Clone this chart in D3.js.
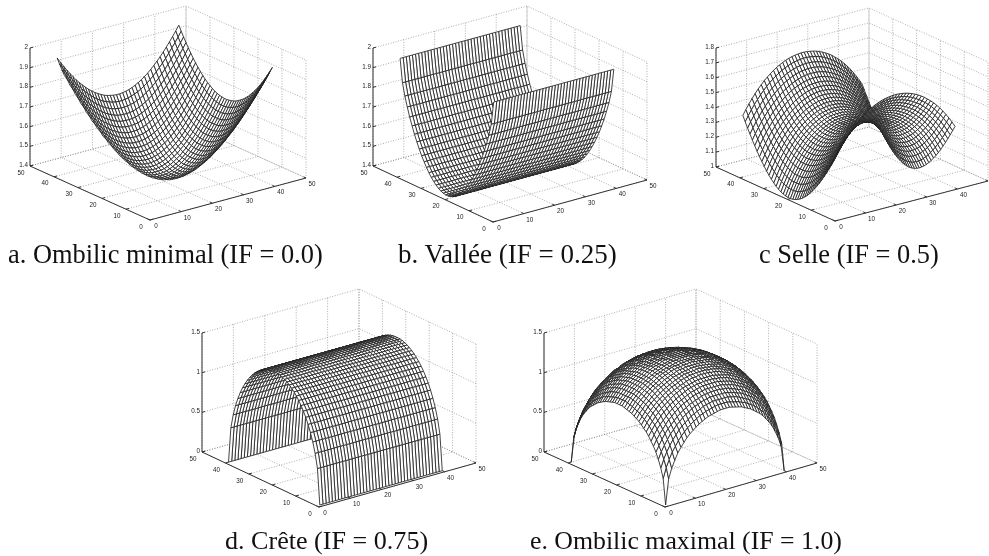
<!DOCTYPE html>
<html>
<head>
<meta charset="utf-8">
<title>Indice de forme</title>
<script src="https://d3js.org/d3.v7.min.js"></script>
<style>
  body { margin: 0; background: #fff; }
  svg { display: block; filter: blur(0.45px); }
</style>
</head>
<body>
<div id="chart"></div>
<script>
// Height tables read off the surfaces. Rows and columns count from the middle
// of the 40 x 40 mesh out to its border, the other three quarters are mirrors.

// a. rows get longer by one, the table is the same across its diagonal
var bowlHeights = [
  [1.415],
  [1.417,1.418],
  [1.420,1.422,1.425],
  [1.426,1.427,1.431,1.437],
  [1.433,1.435,1.438,1.444,1.451],
  [1.442,1.444,1.448,1.453,1.460,1.470],
  [1.453,1.455,1.458,1.464,1.471,1.480,1.491],
  [1.466,1.468,1.471,1.476,1.483,1.493,1.503,1.515],
  [1.480,1.482,1.485,1.491,1.498,1.507,1.517,1.529,1.543],
  [1.496,1.498,1.501,1.506,1.513,1.522,1.532,1.544,1.558,1.573],
  [1.514,1.515,1.519,1.524,1.531,1.539,1.549,1.562,1.575,1.590,1.606],
  [1.533,1.534,1.538,1.543,1.550,1.558,1.568,1.580,1.593,1.608,1.624,1.642],
  [1.553,1.555,1.558,1.563,1.570,1.578,1.588,1.600,1.613,1.627,1.644,1.661,1.680],
  [1.575,1.576,1.580,1.585,1.591,1.600,1.609,1.621,1.634,1.648,1.664,1.681,1.700,1.720],
  [1.598,1.600,1.603,1.608,1.614,1.623,1.632,1.644,1.656,1.670,1.686,1.703,1.721,1.741,1.762],
  [1.623,1.624,1.627,1.632,1.639,1.647,1.656,1.667,1.680,1.694,1.709,1.726,1.744,1.764,1.785,1.807],
  [1.648,1.649,1.652,1.657,1.664,1.672,1.681,1.692,1.705,1.719,1.734,1.750,1.768,1.788,1.808,1.830,1.853],
  [1.675,1.677,1.680,1.684,1.691,1.698,1.708,1.719,1.731,1.744,1.759,1.776,1.793,1.812,1.833,1.854,1.877,1.900],
  [1.703,1.705,1.708,1.713,1.719,1.726,1.735,1.746,1.758,1.771,1.786,1.802,1.820,1.838,1.858,1.880,1.902,1.925,1.949],
  [1.732,1.734,1.737,1.741,1.747,1.755,1.764,1.774,1.786,1.799,1.814,1.830,1.847,1.865,1.885,1.906,1.928,1.951,1.975,2.000]
];

// b. height across the valley
var valleyProfile = [1.414,1.417,1.422,1.430,1.441,1.454,1.469,1.487,1.508,1.531,1.556,1.584,1.615,1.648,1.685,1.725,1.770,1.820,1.882,2.000];

// c. rows follow y, columns follow x
var saddleHeights = [
  [1.414,1.412,1.409,1.403,1.396,1.386,1.375,1.361,1.346,1.328,1.308,1.286,1.261,1.233,1.203,1.170,1.133,1.094,1.049,1.000],
  [1.416,1.414,1.411,1.405,1.397,1.388,1.377,1.363,1.347,1.330,1.310,1.288,1.263,1.236,1.205,1.172,1.136,1.096,1.052,1.003],
  [1.419,1.418,1.414,1.408,1.401,1.391,1.380,1.367,1.351,1.334,1.314,1.291,1.267,1.240,1.209,1.176,1.140,1.100,1.056,1.008],
  [1.425,1.423,1.420,1.414,1.407,1.397,1.386,1.372,1.357,1.340,1.320,1.298,1.273,1.246,1.216,1.183,1.147,1.108,1.064,1.016],
  [1.432,1.431,1.427,1.422,1.414,1.405,1.393,1.380,1.365,1.347,1.328,1.306,1.281,1.254,1.225,1.192,1.156,1.117,1.074,1.026],
  [1.442,1.440,1.437,1.431,1.424,1.414,1.403,1.390,1.375,1.357,1.338,1.316,1.292,1.265,1.236,1.203,1.168,1.129,1.086,1.039],
  [1.453,1.451,1.447,1.442,1.435,1.425,1.414,1.401,1.386,1.369,1.349,1.328,1.304,1.277,1.248,1.216,1.181,1.143,1.100,1.054],
  [1.465,1.464,1.460,1.455,1.447,1.438,1.427,1.414,1.399,1.382,1.363,1.342,1.318,1.292,1.263,1.231,1.197,1.159,1.117,1.071],
  [1.479,1.478,1.474,1.469,1.462,1.453,1.442,1.429,1.414,1.397,1.378,1.357,1.334,1.308,1.279,1.248,1.214,1.177,1.136,1.091],
  [1.495,1.494,1.490,1.485,1.478,1.468,1.458,1.445,1.431,1.414,1.395,1.374,1.351,1.326,1.298,1.267,1.233,1.197,1.156,1.112],
  [1.513,1.511,1.508,1.503,1.496,1.487,1.476,1.463,1.449,1.433,1.414,1.393,1.371,1.346,1.318,1.288,1.254,1.218,1.179,1.136],
  [1.532,1.530,1.527,1.522,1.515,1.506,1.496,1.483,1.469,1.453,1.434,1.414,1.392,1.367,1.340,1.310,1.277,1.242,1.203,1.161],
  [1.552,1.551,1.548,1.543,1.536,1.527,1.517,1.504,1.490,1.474,1.456,1.436,1.414,1.390,1.363,1.334,1.302,1.267,1.229,1.187],
  [1.574,1.572,1.569,1.564,1.558,1.549,1.539,1.527,1.513,1.497,1.479,1.460,1.438,1.414,1.388,1.359,1.328,1.294,1.256,1.216],
  [1.598,1.596,1.593,1.588,1.581,1.573,1.563,1.551,1.538,1.522,1.504,1.485,1.464,1.440,1.414,1.386,1.356,1.322,1.286,1.246],
  [1.622,1.621,1.618,1.613,1.606,1.598,1.588,1.576,1.563,1.548,1.530,1.511,1.490,1.467,1.442,1.414,1.384,1.351,1.316,1.277],
  [1.648,1.646,1.643,1.638,1.632,1.624,1.614,1.603,1.590,1.575,1.558,1.539,1.519,1.496,1.471,1.444,1.414,1.382,1.347,1.310],
  [1.675,1.673,1.670,1.665,1.659,1.651,1.642,1.630,1.617,1.603,1.586,1.568,1.548,1.525,1.501,1.473,1.445,1.414,1.380,1.343],
  [1.703,1.701,1.698,1.694,1.688,1.680,1.670,1.659,1.646,1.632,1.616,1.598,1.578,1.556,1.532,1.506,1.478,1.447,1.414,1.378],
  [1.732,1.730,1.727,1.723,1.717,1.709,1.700,1.689,1.677,1.663,1.646,1.629,1.610,1.588,1.565,1.539,1.511,1.481,1.449,1.414]
];

// d. height across the ridge
var ridgeProfile = [1.413,1.410,1.403,1.391,1.376,1.356,1.333,1.305,1.273,1.235,1.192,1.142,1.085,1.021,0.946,0.858,0.754,0.624,0.447,0];

// e. same layout as the bowl
var domeHeights = [
  [1.41],
  [1.41,1.41],
  [1.41,1.41,1.40],
  [1.40,1.40,1.40,1.39],
  [1.40,1.39,1.39,1.38,1.38],
  [1.39,1.38,1.38,1.37,1.37,1.36],
  [1.37,1.37,1.37,1.36,1.36,1.35,1.33],
  [1.36,1.36,1.35,1.35,1.34,1.33,1.32,1.31],
  [1.35,1.34,1.34,1.33,1.33,1.32,1.30,1.29,1.27],
  [1.33,1.33,1.32,1.32,1.31,1.30,1.29,1.27,1.25,1.24],
  [1.31,1.31,1.30,1.30,1.29,1.28,1.26,1.25,1.23,1.21,1.19],
  [1.28,1.28,1.28,1.27,1.26,1.25,1.24,1.23,1.21,1.19,1.17,1.14],
  [1.26,1.26,1.25,1.25,1.24,1.23,1.22,1.20,1.18,1.16,1.14,1.11,1.09],
  [1.23,1.23,1.23,1.22,1.21,1.20,1.19,1.17,1.15,1.13,1.11,1.08,1.05,1.02],
  [1.20,1.20,1.20,1.19,1.18,1.17,1.16,1.14,1.12,1.10,1.08,1.05,1.02,0.98,0.95],
  [1.17,1.17,1.16,1.16,1.15,1.13,1.12,1.10,1.09,1.06,1.04,1.01,0.98,0.94,0.90,0.86],
  [1.13,1.13,1.13,1.12,1.11,1.10,1.08,1.07,1.05,1.02,1.00,0.97,0.93,0.90,0.85,0.81,0.75],
  [1.09,1.09,1.09,1.08,1.07,1.06,1.04,1.02,1.00,0.98,0.95,0.92,0.89,0.85,0.80,0.75,0.69,0.62],
  [1.05,1.05,1.04,1.03,1.02,1.01,0.99,0.98,0.95,0.93,0.90,0.87,0.83,0.79,0.74,0.68,0.62,0.54,0.45],
  [1.00,1.00,0.99,0.98,0.97,0.96,0.94,0.92,0.90,0.87,0.84,0.81,0.77,0.72,0.67,0.61,0.53,0.44,0.32,0]
];

var floorTicks = [0, 10, 20, 30, 40, 50];
var floorLabelsCut = [0, 10, 20, 30, 40];
var zTicksValley = [1.4, 1.5, 1.6, 1.7, 1.8, 1.9, 2];
var zTicksSaddle = [1, 1.1, 1.2, 1.3, 1.4, 1.5, 1.6, 1.7, 1.8];
var zTicksDome = [0, 0.5, 1, 1.5];

var captions = [
  "a. Ombilic minimal (IF = 0.0)",
  "b. Vallée (IF = 0.25)",
  "c Selle (IF = 0.5)",
  "d. Crête (IF = 0.75)",
  "e. Ombilic maximal (IF = 1.0)"
];

var svgWidth = 989;
var svgHeight = 556;
var meshSize = 40;

// distance from the middle of the mesh, in rows of a height table
function fromMiddle(k) {
  return k < meshSize / 2 ? meshSize / 2 - 1 - k : k - meshSize / 2;
}

function lookupTriangle(table) {
  return function(i, j) {
    var a = fromMiddle(i), b = fromMiddle(j);
    return a > b ? table[a][b] : table[b][a];
  };
}

// Each plot: floor corners in pixels, height of the box, its z range
var panels = [
  {
    origin: [150, 220], left: [30, 166], right: [306, 178], boxHeight: 118,
    zDomain: [1.4, 2], zTicks: zTicksValley, xLabels: floorTicks,
    height: lookupTriangle(bowlHeights),
    show: function(i, j) { return i + j >= meshSize - 4; },
    caption: captions[0], captionX: 8, captionY: 263, captionSize: 26.4
  },
  {
    origin: [493, 222], left: [373, 166], right: [647, 180], boxHeight: 118,
    zDomain: [1.4, 2], zTicks: zTicksValley, xLabels: floorTicks,
    height: function(i, j) { return valleyProfile[fromMiddle(j)]; },
    show: function() { return true; },
    caption: captions[1], captionX: 398, captionY: 263, captionSize: 27
  },
  {
    origin: [835, 221], left: [716, 167], right: [988, 181], boxHeight: 119,
    zDomain: [1, 1.8], zTicks: zTicksSaddle, xLabels: floorLabelsCut,
    height: function(i, j) { return saddleHeights[fromMiddle(j)][fromMiddle(i)]; },
    show: function() { return true; },
    caption: captions[2], captionX: 759, captionY: 263, captionSize: 26.4
  },
  {
    origin: [319, 507], left: [202, 452], right: [476, 463], boxHeight: 119,
    zDomain: [0, 1.5], zTicks: zTicksDome, xLabels: floorTicks,
    height: function(i, j) { return ridgeProfile[fromMiddle(j)]; },
    show: function() { return true; },
    caption: captions[3], captionX: 225, captionY: 549, captionSize: 26.1
  },
  {
    origin: [665, 507], left: [544, 452], right: [817, 463], boxHeight: 119,
    zDomain: [0, 1.5], zTicks: zTicksDome, xLabels: floorTicks,
    height: lookupTriangle(domeHeights),
    show: function() { return true; },
    caption: captions[4], captionX: 530, captionY: 549, captionSize: 25.8
  }
];

var svg = d3.select("#chart")
  .append("svg")
  .attr("width", svgWidth)
  .attr("height", svgHeight);

var pathLine = d3.line();

panels.forEach(function(p) {
  var g = svg.append("g");

  // one scale per axis, all of them giving pixel shifts
  var xToX = d3.scaleLinear().domain([0, 50]).range([0, p.right[0] - p.origin[0]]);
  var xToY = d3.scaleLinear().domain([0, 50]).range([0, p.right[1] - p.origin[1]]);
  var yToX = d3.scaleLinear().domain([0, 50]).range([0, p.left[0] - p.origin[0]]);
  var yToY = d3.scaleLinear().domain([0, 50]).range([0, p.left[1] - p.origin[1]]);
  var zToY = d3.scaleLinear().domain(p.zDomain).range([0, -p.boxHeight]);

  function project(x, y, z) {
    return [
      p.origin[0] + xToX(x) + yToX(y),
      p.origin[1] + xToY(x) + yToY(y) + zToY(z)
    ];
  }

  // larger is further from the viewer, 0.4 is the tangent of the elevation
  function depth(x, y, z) {
    return -(xToY(x) + yToY(y)) / 0.4 + zToY(z) * 0.4;
  }

  var zLow = p.zDomain[0], zHigh = p.zDomain[1];

  // Dotted grid on floor and back walls
  var gridLines = [];
  floorTicks.forEach(function(t) {
    gridLines.push([project(t, 0, zLow), project(t, 50, zLow), project(t, 50, zHigh)]);
    gridLines.push([project(0, t, zLow), project(50, t, zLow), project(50, t, zHigh)]);
  });
  p.zTicks.forEach(function(t) {
    gridLines.push([project(0, 50, t), project(50, 50, t), project(50, 0, t)]);
  });

  g.append("g").selectAll("path")
    .data(gridLines)
    .enter()
    .append("path")
    .attr("d", pathLine)
    .attr("fill", "none")
    .attr("stroke", "#777")
    .attr("stroke-width", 0.6)
    .attr("stroke-dasharray", "1 1.6");

  // Axis lines
  var axisLines = [
    [project(50, 0, zLow), project(0, 0, zLow), project(0, 50, zLow), project(0, 50, zHigh)]
  ];
  floorTicks.forEach(function(t) {
    axisLines.push([project(t, 0, zLow), project(t, 1, zLow)]);
    axisLines.push([project(0, t, zLow), project(1, t, zLow)]);
  });
  p.zTicks.forEach(function(t) {
    axisLines.push([project(0, 50, t), project(1, 50, t)]);
  });

  g.append("g").selectAll("path")
    .data(axisLines)
    .enter()
    .append("path")
    .attr("d", pathLine)
    .attr("fill", "none")
    .attr("stroke", "#333")
    .attr("stroke-width", 1);

  // Tick labels
  var tickFont = { family: "Liberation Sans", size: 6.3 };

  g.append("g").selectAll("text")
    .data(p.xLabels)
    .enter()
    .append("text")
    .attr("x", d => project(d, 0, zLow)[0] + 6)
    .attr("y", d => project(d, 0, zLow)[1] + 8)
    .attr("text-anchor", "middle")
    .attr("font-family", tickFont.family)
    .attr("font-size", tickFont.size)
    .attr("fill", "#222")
    .text(d => d);

  g.append("g").selectAll("text")
    .data(floorTicks)
    .enter()
    .append("text")
    .attr("x", d => project(0, d, zLow)[0] - 9)
    .attr("y", d => project(0, d, zLow)[1] + 8.5)
    .attr("text-anchor", "middle")
    .attr("font-family", tickFont.family)
    .attr("font-size", tickFont.size)
    .attr("fill", "#222")
    .text(d => d);

  g.append("g").selectAll("text")
    .data(p.zTicks)
    .enter()
    .append("text")
    .attr("x", d => project(0, 50, d)[0] - 2)
    .attr("y", d => project(0, 50, d)[1] + 1)
    .attr("text-anchor", "end")
    .attr("font-family", tickFont.family)
    .attr("font-size", tickFont.size)
    .attr("fill", "#222")
    .text(d => d);

  // Mesh cells, mesh runs over x and y from 1 to 40, drawn far to near
  var cells = [];
  for (var i = 0; i < meshSize - 1; i++) {
    for (var j = 0; j < meshSize - 1; j++) {
      if (!p.show(i, j)) continue;
      var corners = [[i, j], [i + 1, j], [i + 1, j + 1], [i, j + 1]];
      var xyz = corners.map(c => [c[0] + 1, c[1] + 1, p.height(c[0], c[1])]);
      cells.push({
        points: xyz.map(c => project(c[0], c[1], c[2])),
        far: d3.mean(xyz, c => depth(c[0], c[1], c[2]))
      });
    }
  }
  cells.sort((a, b) => b.far - a.far);

  g.append("g").selectAll("path")
    .data(cells)
    .enter()
    .append("path")
    .attr("d", d => pathLine(d.points) + "Z")
    .attr("fill", "#fff")
    .attr("stroke", "#222")
    .attr("stroke-width", 0.85)
    .attr("stroke-linejoin", "round");

  // Caption under the plot
  g.append("text")
    .attr("x", p.captionX)
    .attr("y", p.captionY)
    .attr("font-family", "Liberation Serif")
    .attr("font-size", p.captionSize)
    .attr("fill", "#111")
    .text(p.caption);
});
</script>
</body>
</html>
